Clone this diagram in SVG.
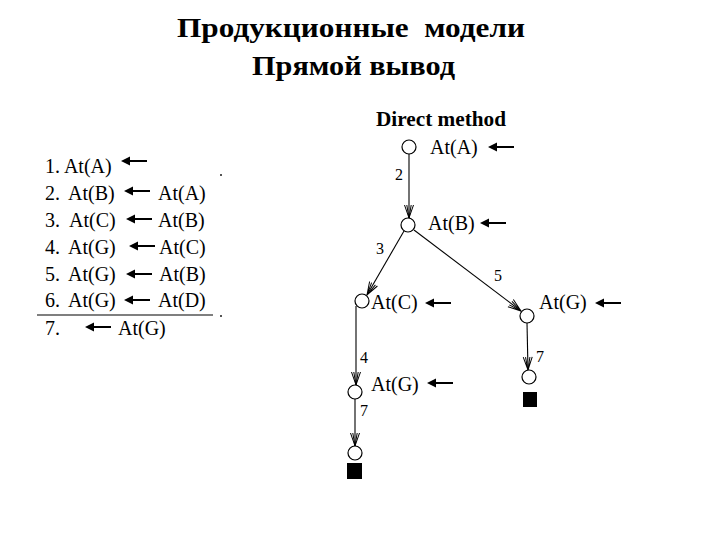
<svg xmlns="http://www.w3.org/2000/svg" width="720" height="540" viewBox="0 0 720 540">
<defs>
<style>
.title{font-family:"Liberation Serif","Times New Roman",serif;font-weight:bold;font-size:28px;fill:#000;white-space:pre}
.lst{font-family:"Liberation Serif","Times New Roman",serif;font-size:20px;fill:#000}
.lbl{font-family:"Liberation Serif","Times New Roman",serif;font-size:20px;fill:#000}
.num{font-family:"Liberation Serif","Times New Roman",serif;font-size:16px;fill:#000}
.hd{font-family:"Liberation Serif","Times New Roman",serif;font-weight:bold;font-size:20px;fill:#000}
.node{fill:#fff;stroke:#000;stroke-width:1.2}
.edge{stroke:#000;stroke-width:1.1;fill:none}
.goal{fill:#000}
</style>
<marker id="open" markerUnits="userSpaceOnUse" markerWidth="16" markerHeight="12" viewBox="-14 -6 16 12" refX="0" refY="0" orient="auto">
<path d="M-13,-4.5 L0,0 L-13,4.5 M-13,-2.2 L0,0 L-13,2.2" fill="none" stroke="#000" stroke-width="1"/>
</marker>
<g id="larr">
<path d="M0,0 L9,-4.5 L9,4.5 Z" fill="#000"/>
<line x1="8" y1="0" x2="26" y2="0" stroke="#000" stroke-width="2"/>
</g>
</defs>
<rect width="720" height="540" fill="#fff"/>

<g id="title">
<text class="title" x="177" y="37" textLength="348" lengthAdjust="spacingAndGlyphs">Продукционные  модели</text>
<text class="title" x="252" y="75" textLength="203" lengthAdjust="spacingAndGlyphs">Прямой вывод</text>
</g>

<g id="list">
<text class="lst" x="45" y="173">1. At(A)</text>
<use href="#larr" x="121" y="161"/>
<text class="lst" x="45" y="200">2.</text><text class="lst" x="68" y="200">At(B)</text>
<use href="#larr" x="124" y="191"/>
<text class="lst" x="158" y="200">At(A)</text>
<text class="lst" x="45" y="227">3.</text><text class="lst" x="69" y="227">At(C)</text>
<use href="#larr" x="126" y="219"/>
<text class="lst" x="158" y="227">At(B)</text>
<text class="lst" x="45" y="254">4.</text><text class="lst" x="68" y="254">At(G)</text>
<use href="#larr" x="129" y="246"/>
<text class="lst" x="159" y="254">At(C)</text>
<text class="lst" x="45" y="281">5.</text><text class="lst" x="68" y="281">At(G)</text>
<use href="#larr" x="126" y="274"/>
<text class="lst" x="159" y="281">At(B)</text>
<text class="lst" x="45" y="307">6.</text><text class="lst" x="68" y="307">At(G)</text>
<use href="#larr" x="124" y="300"/>
<text class="lst" x="158" y="307">At(D)</text>
<line x1="37" y1="315" x2="213" y2="315" stroke="#000" stroke-width="1.2"/>
<text class="lst" x="45" y="335">7.</text>
<use href="#larr" x="85" y="327"/>
<text class="lst" x="118" y="335">At(G)</text>
<rect x="220" y="174" width="2" height="2" fill="#555"/>
<rect x="220" y="315" width="2" height="2" fill="#555"/>
</g>

<text class="hd" x="376" y="126" textLength="130" lengthAdjust="spacingAndGlyphs">Direct method</text>

<g id="connectors">
<line class="edge" x1="409" y1="154" x2="409" y2="218" marker-end="url(#open)"/>
<line class="edge" x1="404" y1="231" x2="367" y2="295" marker-end="url(#open)"/>
<line class="edge" x1="414" y1="230" x2="521" y2="311" marker-end="url(#open)"/>
<line class="edge" x1="527" y1="323" x2="528" y2="370" marker-end="url(#open)"/>
<line class="edge" x1="356" y1="306" x2="356" y2="385" marker-end="url(#open)"/>
<line class="edge" x1="355" y1="399" x2="355" y2="446" marker-end="url(#open)"/>
<text class="num" x="395" y="180">2</text>
<text class="num" x="376" y="254">3</text>
<text class="num" x="494" y="281">5</text>
<text class="num" x="360" y="363">4</text>
<text class="num" x="360" y="416">7</text>
<text class="num" x="536" y="362">7</text>
</g>

<g id="nA">
<circle class="node" cx="409" cy="147" r="7"/>
<text class="lbl" x="430" y="154">At(A)</text>
<use href="#larr" x="488" y="147"/>
</g>
<g id="nB">
<circle class="node" cx="408" cy="225" r="7"/>
<text class="lbl" x="428" y="230">At(B)</text>
<use href="#larr" x="480" y="223"/>
</g>
<g id="nC">
<circle class="node" cx="362" cy="301" r="7"/>
<text class="lbl" x="371" y="309">At(C)</text>
<use href="#larr" x="425" y="303"/>
</g>
<g id="nG1">
<circle class="node" cx="527" cy="316" r="7"/>
<text class="lbl" x="539" y="309">At(G)</text>
<use href="#larr" x="595" y="303"/>
</g>
<g id="nG2">
<circle class="node" cx="355" cy="392" r="7"/>
<text class="lbl" x="371" y="391">At(G)</text>
<use href="#larr" x="427" y="383"/>
</g>
<g id="goal1">
<circle class="node" cx="529" cy="377" r="7"/>
<rect class="goal" x="523" y="392" width="14" height="15"/>
</g>
<g id="goal2">
<circle class="node" cx="355" cy="453" r="7"/>
<rect class="goal" x="347" y="463" width="15" height="16"/>
</g>
</svg>
